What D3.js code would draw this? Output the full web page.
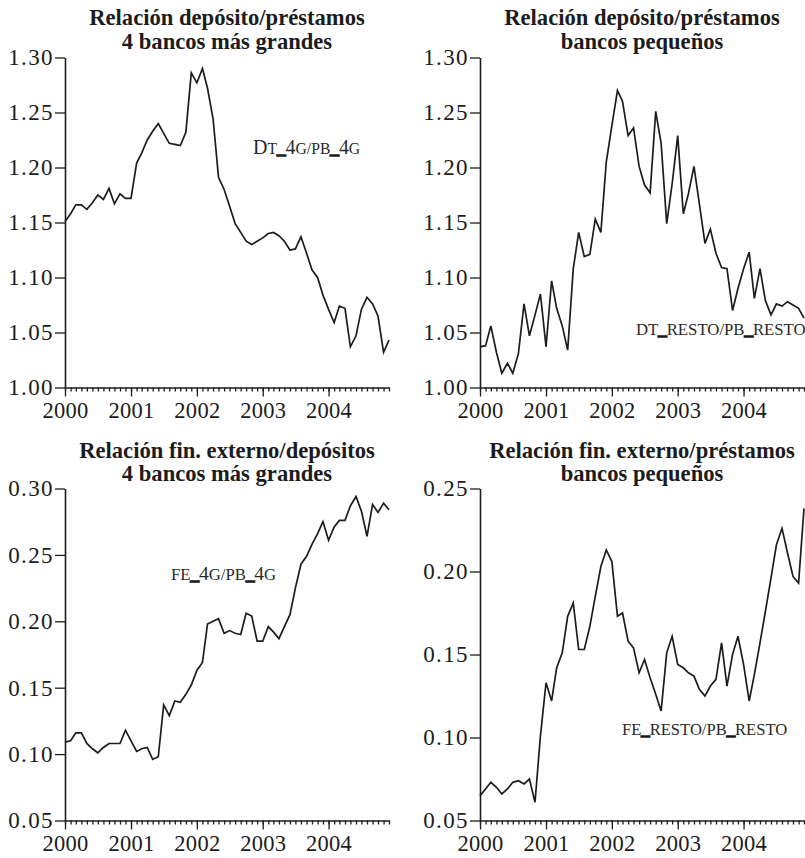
<!DOCTYPE html>
<html>
<head>
<meta charset="utf-8">
<script src="https://cdn.jsdelivr.net/npm/d3@7"></script>
<style>
  body { margin: 0; background: #fff; }
  svg { display: block; }
</style>
</head>
<body>
<svg id="chart" width="805" height="858"></svg>
<script>
// Monthly observations, January 2000 to December 2004
const months = d3.timeMonth.range(new Date(2000, 0, 1), new Date(2005, 0, 1));

// Deposits / loans, 4 largest banks
const depLoans4G = [
  1.151, 1.158, 1.166, 1.166, 1.162, 1.168, 1.175, 1.171, 1.181, 1.167,
  1.176, 1.172, 1.172, 1.204, 1.213, 1.225, 1.233, 1.240, 1.231, 1.222,
  1.221, 1.220, 1.232, 1.286, 1.277, 1.290, 1.272, 1.244, 1.191, 1.180,
  1.165, 1.149, 1.141, 1.133, 1.130, 1.133, 1.136, 1.140, 1.141, 1.138,
  1.133, 1.125, 1.126, 1.137, 1.122, 1.107, 1.100, 1.084, 1.071, 1.059,
  1.074, 1.072, 1.037, 1.047, 1.071, 1.082, 1.076, 1.065, 1.032, 1.043
];

// Deposits / loans, small banks
const depLoansResto = [
  1.037, 1.038, 1.056, 1.032, 1.013, 1.022, 1.013, 1.031, 1.076, 1.047,
  1.066, 1.085, 1.037, 1.097, 1.072, 1.056, 1.034, 1.108, 1.141, 1.119,
  1.121, 1.153, 1.141, 1.205, 1.238, 1.270, 1.260, 1.229, 1.236, 1.201,
  1.184, 1.177, 1.251, 1.222, 1.149, 1.185, 1.229, 1.158, 1.176, 1.201,
  1.167, 1.131, 1.144, 1.122, 1.109, 1.108, 1.070, 1.090, 1.108, 1.123,
  1.081, 1.108, 1.079, 1.066, 1.076, 1.074, 1.078, 1.075, 1.072, 1.063
];

// External funding / deposits, 4 largest banks
const extDep4G = [
  0.109, 0.110, 0.116, 0.116, 0.108, 0.104, 0.101, 0.105, 0.108, 0.108,
  0.108, 0.118, 0.110, 0.102, 0.104, 0.105, 0.096, 0.098, 0.137, 0.129,
  0.140, 0.139, 0.145, 0.152, 0.163, 0.169, 0.198, 0.200, 0.202, 0.191,
  0.193, 0.191, 0.190, 0.206, 0.204, 0.185, 0.185, 0.196, 0.192, 0.187,
  0.196, 0.205, 0.225, 0.243, 0.249, 0.258, 0.266, 0.275, 0.261, 0.271,
  0.276, 0.276, 0.287, 0.294, 0.283, 0.264, 0.288, 0.282, 0.289, 0.284
];

// External funding / loans, small banks
const extLoansResto = [
  0.065, 0.069, 0.073, 0.070, 0.066, 0.069, 0.073, 0.074, 0.072, 0.075,
  0.061, 0.101, 0.133, 0.122, 0.142, 0.151, 0.173, 0.181, 0.153, 0.153,
  0.167, 0.185, 0.203, 0.213, 0.206, 0.173, 0.175, 0.158, 0.154, 0.139,
  0.147, 0.136, 0.126, 0.116, 0.151, 0.161, 0.144, 0.142, 0.139, 0.137,
  0.129, 0.125, 0.131, 0.135, 0.157, 0.131, 0.150, 0.161, 0.144, 0.122,
  0.138, 0.157, 0.176, 0.196, 0.216, 0.226, 0.211, 0.197, 0.193, 0.238
];

// Tick labels
const yearTicks = [2000, 2001, 2002, 2003, 2004];
const yTicksDep = [1.00, 1.05, 1.10, 1.15, 1.20, 1.25, 1.30];
const yTicksExt4G = [0.05, 0.10, 0.15, 0.20, 0.25, 0.30];
const yTicksExtResto = [0.05, 0.10, 0.15, 0.20, 0.25];

// Titles
const titles = [
  ["Relación depósito/préstamos", "4 bancos más grandes"],
  ["Relación depósito/préstamos", "bancos pequeños"],
  ["Relación fin. externo/depósitos", "4 bancos más grandes"],
  ["Relación fin. externo/préstamos", "bancos pequeños"]
];

// Series names: [text, kind]  L = full size, S = small caps, M = caps, U = underscore
const seriesNames = [
  [["D", "L"], ["T", "S"], ["_", "U"], ["4", "L"], ["G", "S"], ["/", "S"], ["PB", "S"], ["_", "U"], ["4", "L"], ["G", "S"]],
  [["DT", "M"], ["_", "U"], ["RESTO/PB", "M"], ["_", "U"], ["RESTO", "M"]],
  [["FE", "M"], ["_", "U"], ["4", "L"], ["G/PB", "M"], ["_", "U"], ["4", "L"], ["G", "M"]],
  [["FE", "M"], ["_", "U"], ["RESTO/PB", "M"], ["_", "U"], ["RESTO", "M"]]
];

const ink = "#1c1c1c";
const serif = "'Liberation Serif', 'Times New Roman', serif";

const panels = [
  { series: depLoans4G, yTicks: yTicksDep, domain: [1.00, 1.30], title: titles[0], name: seriesNames[0],
    left: 65, right: 389, top: 57.5, bottom: 387.5, titleY: 25, nameX: 253, nameY: 154, nameSize: 1.08 },
  { series: depLoansResto, yTicks: yTicksDep, domain: [1.00, 1.30], title: titles[1], name: seriesNames[1],
    left: 480, right: 804, top: 57.5, bottom: 387.5, titleY: 25, nameX: 636, nameY: 335, nameSize: 1.06 },
  { series: extDep4G, yTicks: yTicksExt4G, domain: [0.05, 0.30], title: titles[2], name: seriesNames[2],
    left: 65, right: 389, top: 488.5, bottom: 820.5, titleY: 457.5, nameX: 171, nameY: 580, nameSize: 1.06 },
  { series: extLoansResto, yTicks: yTicksExtResto, domain: [0.05, 0.25], title: titles[3], name: seriesNames[3],
    left: 480, right: 804, top: 488.5, bottom: 820.5, titleY: 457.5, nameX: 622, nameY: 735, nameSize: 1.05 }
];

const svg = d3.select("#chart");

panels.forEach(p => {
  const g = svg.append("g");

  const x = d3.scaleTime()
    .domain([months[0], months[months.length - 1]])
    .range([p.left, p.right]);
  const y = d3.scaleLinear().domain(p.domain).range([p.bottom, p.top]);

  // Title, two centred lines
  const cx = (p.left + p.right) / 2;
  p.title.forEach((t, i) => {
    g.append("text")
      .attr("x", cx).attr("y", p.titleY + i * 23.5)
      .attr("text-anchor", "middle")
      .attr("font-family", serif).attr("font-weight", "bold")
      .attr("font-size", 22.6).attr("fill", ink)
      .text(t);
  });

  // Y axis
  const yAxis = d3.axisLeft(y)
    .tickValues(p.yTicks)
    .tickFormat(d3.format(".2f"))
    .tickSize(10).tickSizeOuter(0).tickPadding(1);
  const ya = g.append("g").attr("transform", `translate(${p.left},0)`).call(yAxis);
  ya.selectAll("text").attr("font-family", serif).attr("font-size", 23)
    .attr("letter-spacing", 1.4).attr("fill", ink);

  // X axis: monthly minor ticks, yearly major ticks with labels
  const xMinor = d3.axisBottom(x).tickValues(months).tickSize(4).tickSizeOuter(0).tickFormat("");
  const xm = g.append("g").attr("transform", `translate(0,${p.bottom})`).call(xMinor);

  const yearDates = yearTicks.map(yr => new Date(yr, 0, 1));
  const xMajor = d3.axisBottom(x).tickValues(yearDates).tickSize(9).tickSizeOuter(0)
    .tickPadding(6).tickFormat(d3.timeFormat("%Y"));
  const xa = g.append("g").attr("transform", `translate(0,${p.bottom})`).call(xMajor);
  xa.select(".domain").remove();
  xa.selectAll("text").attr("font-family", serif).attr("font-size", 22.5)
    .attr("letter-spacing", 0.3).attr("fill", ink);

  [ya, xm, xa].forEach(a => {
    a.selectAll("line").attr("stroke", ink).attr("stroke-width", 1.3);
    a.selectAll(".domain").attr("stroke", ink).attr("stroke-width", 1.6);
  });

  // Series line
  const line = d3.line()
    .x((d, i) => x(months[i]))
    .y(d => y(d));
  g.append("path")
    .datum(p.series)
    .attr("d", line)
    .attr("fill", "none")
    .attr("stroke", ink)
    .attr("stroke-width", 1.7)
    .attr("stroke-linejoin", "miter");

  // Series name inside the plot
  const sizes = { L: 18.5, S: 14.5, M: 15.8, U: 15.8 };
  const label = g.append("text")
    .attr("x", p.nameX).attr("y", p.nameY)
    .attr("font-family", serif).attr("fill", "#2a2a2a");
  p.name.forEach(([t, k]) => {
    const ts = label.append("tspan").attr("font-size", sizes[k] * p.nameSize).text(t);
    if (k === "U") ts.attr("stroke", "#1a1a1a").attr("stroke-width", 1.6);
  });
});
</script>
</body>
</html>
